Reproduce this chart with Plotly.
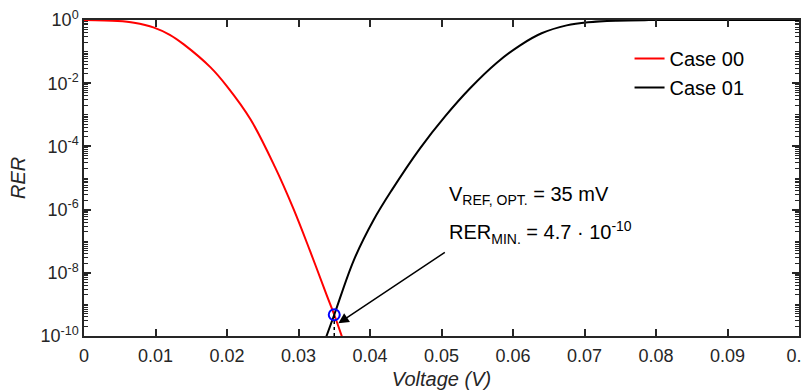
import plotly.graph_objects as go

# ---- data ----
v_case00 = [0.0, 0.0047, 0.0070, 0.0098, 0.0120, 0.0140, 0.0177, 0.0200, 0.0233, 0.0267, 0.0293,
            0.0316, 0.0339, 0.0350, 0.0362]
rer_case00 = [1.0, 0.933, 0.822, 0.575, 0.339, 0.166, 0.0316, 7.94e-3, 7.08e-4, 2.24e-5, 1.05e-6,
              5.01e-8, 2.09e-9, 4.7e-10, 7.9e-11]

v_case01 = [0.0336, 0.0350, 0.0377, 0.0405, 0.0430, 0.0470, 0.0505, 0.0540, 0.0577,
            0.0610, 0.0640, 0.0675, 0.0705, 0.0745, 0.0790, 0.1000]
rer_case01 = [6.3e-11, 4.7e-10, 2.40e-8, 4.68e-7, 3.98e-6, 8.71e-5, 8.91e-4, 6.92e-3, 0.0437,
              0.158, 0.380, 0.676, 0.851, 0.955, 0.993, 1.0]

v_opt = 0.035
rer_min = 4.7e-10

x_tickvals = [0, 0.01, 0.02, 0.03, 0.04, 0.05, 0.06, 0.07, 0.08, 0.09, 0.1]
x_ticktext = ["0", "0.01", "0.02", "0.03", "0.04", "0.05", "0.06", "0.07", "0.08", "0.09", "0.1"]
y_tickvals = [1, 1e-2, 1e-4, 1e-6, 1e-8, 1e-10]
y_ticktext = ["10<sup>0</sup>", "10<sup>-2</sup>", "10<sup>-4</sup>", "10<sup>-6</sup>",
              "10<sup>-8</sup>", "10<sup>-10</sup>"]
y_minor = [k * 10.0 ** e for e in range(-10, 0) for k in range(1, 10) if not (k == 1 and e % 2 == 0)]

AX = "#262626"
FONT = "Liberation Sans, Arial, sans-serif"

fig = go.Figure()
fig.add_trace(go.Scatter(x=v_case00, y=rer_case00, mode="lines", name="Case 00",
                         line=dict(color="#ff0000", width=2, shape="spline", smoothing=1)))
fig.add_trace(go.Scatter(x=v_case01, y=rer_case01, mode="lines", name="Case 01",
                         line=dict(color="#000000", width=2, shape="spline", smoothing=1)))
fig.add_trace(go.Scatter(x=[v_opt, v_opt], y=[1e-10, rer_min], mode="lines", showlegend=False,
                         line=dict(color="#000000", width=1.5, dash="dot")))
fig.add_trace(go.Scatter(x=[v_opt], y=[rer_min], mode="markers", showlegend=False,
                         marker=dict(symbol="circle-open", size=11, color="#0000ff",
                                     line=dict(width=2, color="#0000ff"))))

# the page body has an 8px margin, so the figure is 8px smaller and margins are shifted
fig.update_layout(
    width=802, height=384,
    margin=dict(l=76, r=11, t=12, b=56),
    paper_bgcolor="white", plot_bgcolor="white",
    font=dict(family=FONT, color=AX, size=18),
    showlegend=True,
    legend=dict(x=0.763, y=0.94, xanchor="left", yanchor="top",
                bgcolor="rgba(0,0,0,0)", borderwidth=0,
                font=dict(size=20, color="#000000"), tracegroupgap=0),
    xaxis=dict(range=[0, 0.1], tickvals=x_tickvals, ticktext=x_ticktext, automargin=False,
               ticklabeloverflow="allow",
               showline=True, linecolor=AX, linewidth=1.5, mirror="ticks",
               ticks="inside", ticklen=7, tickwidth=1.5, tickcolor=AX,
               showgrid=False, zeroline=False, tickfont=dict(size=18), ticklabelstandoff=3,
               title=dict(text="<i>Voltage (V)</i>", font=dict(size=20, color=AX), standoff=7)),
    yaxis=dict(type="log", range=[-10, 0], tickvals=y_tickvals, ticktext=y_ticktext, automargin=False,
               ticklabeloverflow="allow",
               showline=True, linecolor=AX, linewidth=1.5, mirror="ticks",
               ticks="inside", ticklen=7, tickwidth=1.5, tickcolor=AX,
               showgrid=False, zeroline=False, tickfont=dict(size=18),
               minor=dict(tickmode="array", tickvals=y_minor, ticks="inside",
                          ticklen=4, tickwidth=1, tickcolor=AX, showgrid=False)),
)

# y-axis title
fig.add_annotation(xref="paper", yref="paper", x=(18 - 84) / 715, y=0.5,
                   xanchor="center", yanchor="middle", showarrow=False, textangle=-90,
                   text="<i>RER</i>", font=dict(size=20, color=AX))

fig.add_annotation(xref="paper", yref="paper", x=0.508, y=(336 - 195) / 316,
                   xanchor="left", yanchor="middle", showarrow=False,
                   text="V<sub>REF, OPT.</sub> = 35 mV",
                   font=dict(size=20, color="#000000"))
fig.add_annotation(xref="paper", yref="paper", x=0.508, y=(336 - 232) / 316,
                   xanchor="left", yanchor="middle", showarrow=False,
                   text="RER<sub>MIN.</sub> = 4.7 · 10<sup>-10</sup>",
                   font=dict(size=20, color="#000000"))
# arrow pointing at the optimum
fig.add_annotation(xref="x", yref="y", x=0.03557, y=-9.6, text="",
                   showarrow=True, ax=108, ay=-72, axref="pixel", ayref="pixel",
                   arrowhead=2, arrowsize=1.4, arrowwidth=1.5, arrowcolor="#000000")

fig.write_html("out.html")
